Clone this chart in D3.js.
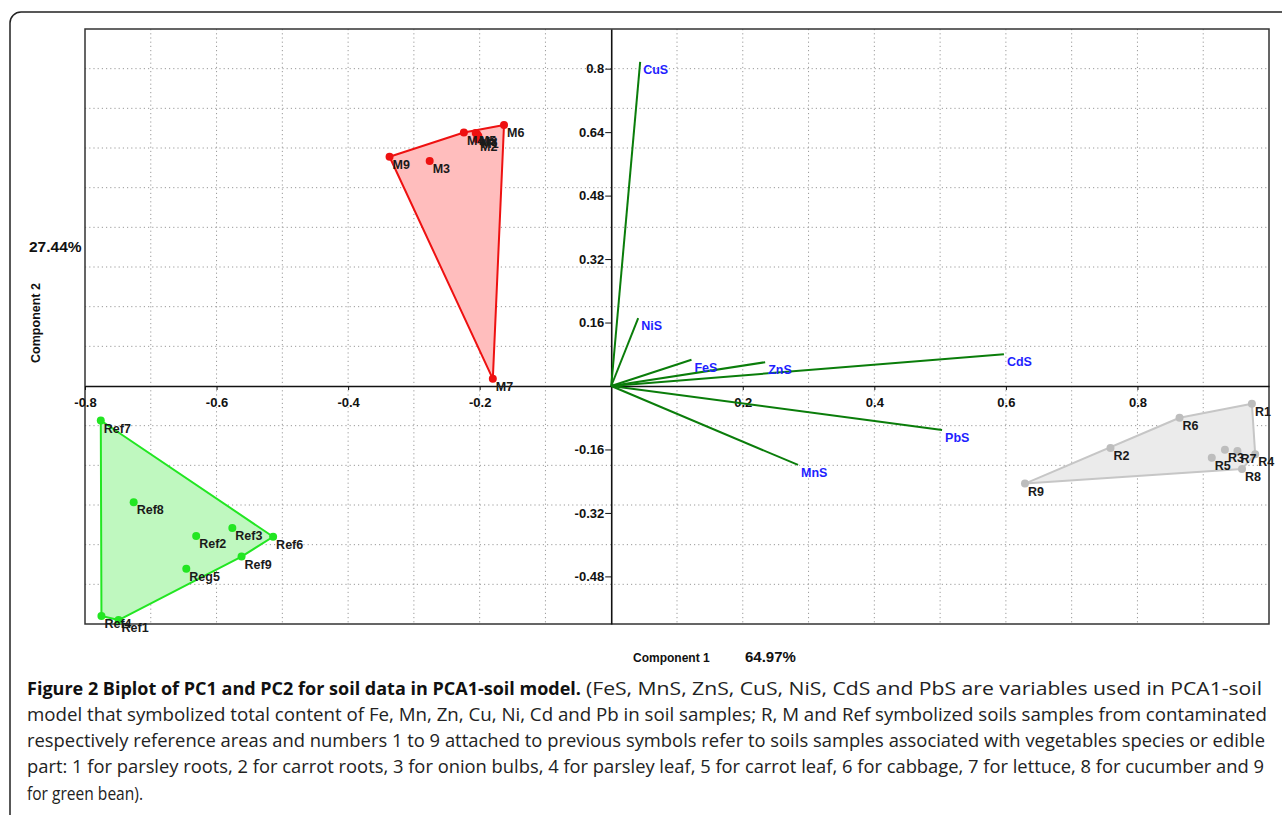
<!DOCTYPE html>
<html><head><meta charset="utf-8">
<script src="https://cdn.jsdelivr.net/npm/d3@7"></script>
<style>
html,body{margin:0;padding:0;background:#fff;}
svg{display:block;}
</style></head>
<body>
<svg id="chart" width="1282" height="815"></svg>
<script>
// ---- data ----
const xTicks = [-0.8, -0.6, -0.4, -0.2, 0.2, 0.4, 0.6, 0.8];
const yTicks = [0.8, 0.64, 0.48, 0.32, 0.16, -0.16, -0.32, -0.48];

const vecNames = ["CuS", "NiS", "FeS", "ZnS", "CdS", "PbS", "MnS"];
const vecX = [0.044, 0.041, 0.122, 0.234, 0.597, 0.503, 0.284];
const vecY = [0.817, 0.171, 0.066, 0.060, 0.080, -0.111, -0.199];

const mNames = ["M6", "M4", "M5", "M8", "M1", "M2", "M9", "M3", "M7"];
const mX = [-0.163, -0.224, -0.206, -0.204, -0.202, -0.204, -0.337, -0.276, -0.180];
const mY = [0.658, 0.639, 0.638, 0.635, 0.630, 0.622, 0.578, 0.567, 0.018];

const refNames = ["Ref7", "Ref8", "Ref3", "Ref6", "Ref2", "Ref9", "Reg5", "Ref4", "Ref1"];
const refX = [-0.776, -0.726, -0.576, -0.514, -0.631, -0.562, -0.646, -0.775, -0.749];
const refY = [-0.087, -0.293, -0.358, -0.380, -0.378, -0.430, -0.461, -0.580, -0.590];

const rNames = ["R1", "R6", "R2", "R9", "R5", "R3", "R7", "R4", "R8"];
const rX = [0.974, 0.864, 0.759, 0.629, 0.913, 0.933, 0.952, 0.979, 0.959];
const rY = [-0.045, -0.080, -0.156, -0.246, -0.181, -0.161, -0.164, -0.172, -0.209];

const xTitle = "Component 1", xPct = "64.97%";
const yTitle = "Component 2", yPct = "27.44%";

const captionBold = "Figure 2 Biplot of PC1 and PC2 for soil data in PCA1-soil model.";
const captionLines = [
  "(FeS, MnS, ZnS, CuS, NiS, CdS and PbS are variables used in PCA1-soil",
  "model that symbolized total content of Fe, Mn, Zn, Cu, Ni, Cd and Pb in soil samples; R, M and Ref symbolized soils samples from contaminated",
  "respectively reference areas and numbers 1 to 9 attached to previous symbols refer to soils samples associated with vegetables species or edible",
  "part: 1 for parsley roots, 2 for carrot roots, 3 for onion bulbs, 4 for parsley leaf, 5 for carrot leaf, 6 for cabbage, 7 for lettuce, 8 for cucumber and 9",
  "for green bean)."
];

// ---- layout ----
const svg = d3.select("#chart");
const L = 85, T = 29, R = 1269, B = 624;
const x = d3.scaleLinear().domain([-0.8, 1.0]).range([L, R]);
const y = d3.scaleLinear().domain([-0.6, 0.9]).range([B, T]);
const FONT = "'Liberation Sans', Arial, sans-serif";

// outer rounded frame
svg.append("rect").attr("x", 10).attr("y", 12).attr("width", 1300).attr("height", 840)
  .attr("rx", 11).attr("fill", "none").attr("stroke", "#222").attr("stroke-width", 1.5);

// grid
const gx = d3.range(-7, 10).filter(d => d !== 0).map(d => d / 10);
const gy = d3.range(-5, 9).filter(d => d !== 0).map(d => d / 10);
const grid = svg.append("g").attr("stroke", "#9a9a9a").attr("stroke-width", 1).attr("stroke-dasharray", "1.2,3");
grid.selectAll(".vx").data(gx).join("line")
  .attr("x1", d => x(d)).attr("x2", d => x(d)).attr("y1", T).attr("y2", B);
grid.selectAll(".hy").data(gy).join("line")
  .attr("y1", d => y(d)).attr("y2", d => y(d)).attr("x1", L).attr("x2", R);

// plot frame
svg.append("rect").attr("x", L).attr("y", T).attr("width", R - L).attr("height", B - T)
  .attr("fill", "none").attr("stroke", "#333").attr("stroke-width", 1.5);

// axes through origin
const yAxis = svg.append("g").attr("transform", `translate(${x(0)},0)`)
  .call(d3.axisLeft(y).tickValues(yTicks).tickSize(6).tickSizeOuter(0).tickFormat(d => String(d)));
const xAxis = svg.append("g").attr("transform", `translate(0,${y(0)})`)
  .call(d3.axisBottom(x).tickValues(xTicks).tickSize(4).tickSizeOuter(0).tickFormat(d => String(d)));
[xAxis, yAxis].forEach(a => {
  a.select(".domain").attr("stroke", "#111").attr("stroke-width", 1.6);
  a.selectAll(".tick line").attr("stroke", "#111");
  a.selectAll(".tick text").attr("font-family", FONT).attr("font-weight", "bold")
    .attr("font-size", 13).attr("fill", "#111");
});
xAxis.selectAll(".tick text").attr("dy", "1.05em");
yAxis.selectAll(".tick text").attr("x", -7);

// loading vectors
const vec = svg.append("g");
vec.selectAll("line").data(vecNames).join("line")
  .attr("x1", x(0)).attr("y1", y(0))
  .attr("x2", (d, i) => x(vecX[i])).attr("y2", (d, i) => y(vecY[i]))
  .attr("stroke", "#0a7d0a").attr("stroke-width", 2);
vec.selectAll("text").data(vecNames).join("text")
  .attr("x", (d, i) => x(vecX[i]) + 3).attr("y", (d, i) => y(vecY[i]) + 12)
  .attr("font-family", FONT).attr("font-weight", "bold").attr("font-size", 12.5)
  .attr("fill", "#1f1fff").text(d => d);

// groups
function drawGroup(names, xs, ys, fill, stroke, dot) {
  const pts = names.map((n, i) => [x(xs[i]), y(ys[i])]);
  const hull = d3.polygonHull(pts);
  const g = svg.append("g");
  g.append("path").attr("d", "M" + hull.join("L") + "Z")
    .attr("fill", fill).attr("stroke", stroke).attr("stroke-width", 2).attr("stroke-linejoin", "round");
  g.selectAll("circle").data(names).join("circle")
    .attr("cx", (d, i) => x(xs[i])).attr("cy", (d, i) => y(ys[i])).attr("r", 4).attr("fill", dot);
  g.selectAll("text").data(names).join("text")
    .attr("x", (d, i) => x(xs[i]) + 3).attr("y", (d, i) => y(ys[i]) + 12)
    .attr("font-family", FONT).attr("font-weight", "bold").attr("font-size", 12.5)
    .attr("fill", "#1a1a1a").text(d => d);
}
drawGroup(mNames, mX, mY, "#ffbdbd", "#ee1111", "#ee1111");
drawGroup(refNames, refX, refY, "#bff8bf", "#22e622", "#22e622");
drawGroup(rNames, rX, rY, "#ebebeb", "#c6c6c6", "#bdbdbd");

// axis titles
svg.append("text").attr("transform", "translate(40,323) rotate(-90)")
  .attr("text-anchor", "middle").attr("font-family", FONT).attr("font-weight", "bold")
  .attr("font-size", 12.5).attr("fill", "#111").text(yTitle);
svg.append("text").attr("x", 29).attr("y", 252)
  .attr("font-family", FONT).attr("font-weight", "bold").attr("font-size", 15.5)
  .attr("fill", "#111").text(yPct);
svg.append("text").attr("x", 633).attr("y", 662)
  .attr("font-family", FONT).attr("font-weight", "bold").attr("font-size", 12)
  .attr("fill", "#111").text(xTitle);
svg.append("text").attr("x", 745).attr("y", 662)
  .attr("font-family", FONT).attr("font-weight", "bold").attr("font-size", 15)
  .attr("fill", "#111").text(xPct);

// caption
const CF = "'Open Sans', 'Noto Sans', sans-serif";
svg.append("text").attr("x", 27).attr("y", 695).attr("font-family", CF)
  .attr("font-weight", "bold").attr("font-size", 18).attr("fill", "#111")
  .attr("textLength", 554).attr("lengthAdjust", "spacingAndGlyphs").text(captionBold);
const capW = [676, 1240, 1238, 1237, 116];
const capX = [586, 27, 27, 27, 27];
const capY = [695, 721, 747, 773, 800];
captionLines.forEach((t, i) => {
  svg.append("text").attr("x", capX[i]).attr("y", capY[i]).attr("font-family", CF)
    .attr("font-size", 18).attr("fill", "#222")
    .attr("textLength", capW[i]).attr("lengthAdjust", "spacingAndGlyphs").text(t);
});
</script>
</body></html>
